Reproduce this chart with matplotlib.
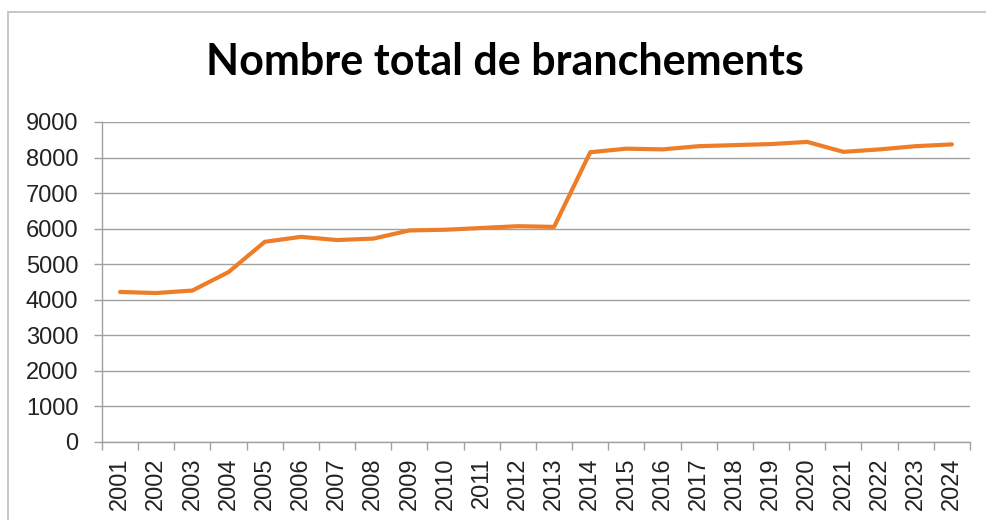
import matplotlib
matplotlib.use("Agg")
import matplotlib.pyplot as plt
from matplotlib.patches import Rectangle
from matplotlib.ticker import FixedLocator

# ---------- DATA ----------
years = [str(y) for y in range(2001, 2025)]
branchements = [4220, 4190, 4260, 4780, 5630, 5770, 5680, 5720, 5950, 5970,
                6020, 6070, 6050, 8150, 8250, 8230, 8320, 8350, 8380, 8440,
                8160, 8230, 8320, 8370]
y_ticks = list(range(0, 10000, 1000))

# ---------- STYLE ----------
LINE_COLOR = '#ee7d2a'
GRID_COLOR = '#a0a0a0'
TICK_FONT = 'Liberation Sans'

fig = plt.figure(figsize=(9.87, 5.2), dpi=100)
fig.patch.set_facecolor('white')

# chart frame
fig.patches.append(Rectangle((8 / 987, -0.05), 1.1, 1 - 12 / 520 + 0.05,
                             transform=fig.transFigure, fill=False,
                             edgecolor='#bdbdbd', linewidth=1.2))

ax = fig.add_axes([102 / 987, 1 - 442 / 520, (970 - 102) / 987, (442 - 122) / 520])
x = list(range(len(years)))
ax.plot(x, branchements, color=LINE_COLOR, linewidth=3.0, solid_capstyle='round')

ax.set_xlim(-0.5, len(years) - 0.5)
ax.set_ylim(0, 9000)
ax.set_yticks(y_ticks)
ax.set_yticklabels([str(v) for v in y_ticks], fontsize=17, family=TICK_FONT, color='#222222')
ax.set_xticks(x)
ax.set_xticklabels(years, rotation=90, fontsize=17, family=TICK_FONT, color='#222222')
ax.xaxis.set_minor_locator(FixedLocator([i - 0.5 for i in range(len(years) + 1)]))

ax.tick_params(axis='x', which='major', length=0, pad=11)
ax.tick_params(axis='x', which='minor', length=6, color=GRID_COLOR, width=1)
ax.tick_params(axis='y', length=6, color=GRID_COLOR, width=1, pad=11)

ax.grid(True, axis='y', color=GRID_COLOR, linewidth=1)
ax.set_axisbelow(True)
for side in ['top', 'right']:
    ax.spines[side].set_visible(False)
for side in ['left', 'bottom']:
    ax.spines[side].set_color(GRID_COLOR)
    ax.spines[side].set_linewidth(1)

fig.text(505 / 987, 1 - 62 / 520, "Nombre total de branchements",
         ha='center', va='center', fontsize=31, fontweight='bold',
         family='Lato', color='black')

fig.savefig('out.png', dpi=100)
